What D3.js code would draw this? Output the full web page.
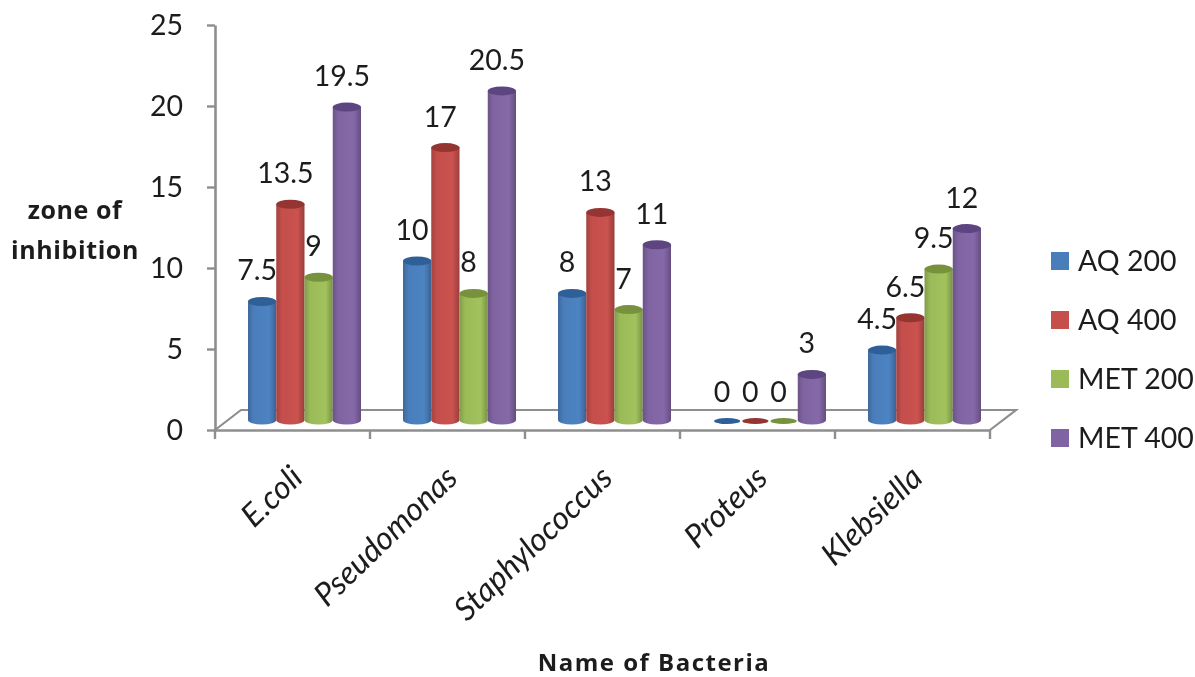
<!DOCTYPE html>
<html><head><meta charset="utf-8">
<script src="https://d3js.org/d3.v7.min.js"></script>
<style>html,body{margin:0;background:#fff}svg{display:block}text{font-family:Lato,"Open Sans",sans-serif;fill:#1c1c1c}</style>
</head><body><svg id="c" width="1195" height="677"></svg>
<script>
const categories = ["E.coli","Pseudomonas","Staphylococcus","Proteus","Klebsiella"];
const seriesNames = ["AQ 200","AQ 400","MET 200","MET 400"];
const aq200 = [7.5,10,8,0,4.5];
const aq400 = [13.5,17,13,0,6.5];
const met200 = [9,8,7,0,9.5];
const met400 = [19.5,20.5,11,3,12];
const seriesValues = [aq200,aq400,met200,met400];
const colors = ["#4a7ebb","#c44f4c","#9bbb59","#8064a2"];
const darks = ["#2f5f96","#943533","#76923c","#5c4480"];
const yTicks = [0,5,10,15,20,25];

const svg = d3.select("#c");
const defs = svg.append("defs");
colors.forEach((c,i)=>{
  const g = defs.append("linearGradient").attr("id","g"+i);
  g.append("stop").attr("offset","0%").attr("stop-color",d3.color(c).darker(0.5));
  g.append("stop").attr("offset","20%").attr("stop-color",c);
  g.append("stop").attr("offset","75%").attr("stop-color",d3.color(c).brighter(0.1));
  g.append("stop").attr("offset","100%").attr("stop-color",d3.color(c).darker(0.7));
});
defs.append("filter").attr("id","soft").append("feGaussianBlur").attr("stdDeviation",0.5);

const x = d3.scaleBand().domain(categories).range([215,990]);
const inner = d3.scaleBand().domain(d3.range(4)).range([21,134]);
const y = d3.scaleLinear().domain([0,25]).range([430,25]);
const depthX = 26, depthY = 20, barDX = 12, barDY = 7;
const axisColor = "#8e8e8e";

const root = svg.append("g").attr("filter","url(#soft)");

root.append("path")
  .attr("d",`M${x.range()[0]},${y(0)} L${x.range()[0]+depthX},${y(0)-depthY} H${x.range()[1]+depthX} L${x.range()[1]},${y(0)}`)
  .attr("fill","none").attr("stroke",axisColor).attr("stroke-width",2.2);

const yAxis = root.append("g").attr("transform",`translate(${x.range()[0]},0)`)
  .call(d3.axisLeft(y).tickValues(yTicks).tickSize(8).tickPadding(24).tickSizeOuter(0));
yAxis.select(".domain").attr("stroke",axisColor).attr("stroke-width",2.6);
yAxis.selectAll(".tick line").attr("stroke",axisColor).attr("stroke-width",2.4);
yAxis.selectAll(".tick text").attr("font-size",28.5).style("font-family","Lato").attr("fill","#1c1c1c");

const xAxis = root.append("g").attr("transform",`translate(0,${y(0)})`)
  .call(d3.axisBottom(x).tickSize(0).tickFormat(""));
xAxis.select(".domain").attr("stroke",axisColor).attr("stroke-width",2.6);
xAxis.selectAll(".tick").remove();
const bounds = [...categories.map(c=>x(c)), x.range()[1]];
xAxis.selectAll("line.b").data(bounds).join("line").attr("class","b")
  .attr("x1",d=>d).attr("x2",d=>d).attr("y1",0).attr("y2",9)
  .attr("stroke",axisColor).attr("stroke-width",2.4);

const w = inner.bandwidth(), ry = 4.5;
const base = y(0)-barDY;
const marks = [];
seriesValues.forEach((vals,s)=>vals.forEach((v,c)=>marks.push({s,c,v})));
const hgt = d=> y(0)-y(d.v);
const left = d=> x(categories[d.c])+inner(d.s)+barDX;

const bars = root.append("g").selectAll("g").data(marks).join("g");
bars.filter(d=>d.v>0).append("path")
  .attr("d",d=>{
    const l=left(d), t=base-hgt(d);
    return `M${l},${t} V${base-3} A${w/2},${ry} 0 0 0 ${l+w},${base-3} V${t} Z`;
  })
  .attr("fill",d=>`url(#g${d.s})`);
bars.append("ellipse")
  .attr("cx",d=>left(d)+w/2).attr("cy",d=>base-hgt(d)-(d.v>0?0:2))
  .attr("rx",d=>d.v>0?w/2:w/2-1).attr("ry",d=>d.v>0?ry:3)
  .attr("fill",d=>darks[d.s]);

root.append("g").selectAll("text").data(marks).join("text")
  .attr("x",d=>left(d)+w/2-5)
  .attr("y",d=>base-hgt(d)-31)
  .attr("dy","0.35em").attr("text-anchor","middle").attr("font-size",28.5)
  .text(d=>d.v);

root.append("g").selectAll("text").data(categories).join("text")
  .attr("text-anchor","end").attr("font-size",32).attr("font-style","italic")
  .attr("transform",d=>`translate(${x(d)+x.bandwidth()/2+12},${480}) rotate(-44)`)
  .text(d=>d);

root.append("g").selectAll("text").data(["zone of","inhibition"]).join("text")
  .attr("x",75).attr("y",(d,i)=>219+i*40).attr("text-anchor","middle")
  .attr("font-size",25).attr("font-weight",700).style("font-family","'Open Sans'")
  .attr("letter-spacing",0.6).text(d=>d);
root.append("text").attr("x",654).attr("y",671).attr("text-anchor","middle")
  .attr("font-size",24).attr("font-weight",700).style("font-family","'Open Sans'")
  .attr("letter-spacing",1.5).text("Name of Bacteria");

const ly = d3.scalePoint().domain(seriesNames).range([261,438]);
const leg = root.append("g").selectAll("g").data(seriesNames).join("g")
  .attr("transform",d=>`translate(1051,${ly(d)})`);
leg.append("rect").attr("x",0).attr("y",-9).attr("width",18).attr("height",18)
  .attr("fill",(d,i)=>colors[i]);
leg.append("text").attr("x",27).attr("dy","0.35em").attr("font-size",28.5).text(d=>d);
</script></body></html>
